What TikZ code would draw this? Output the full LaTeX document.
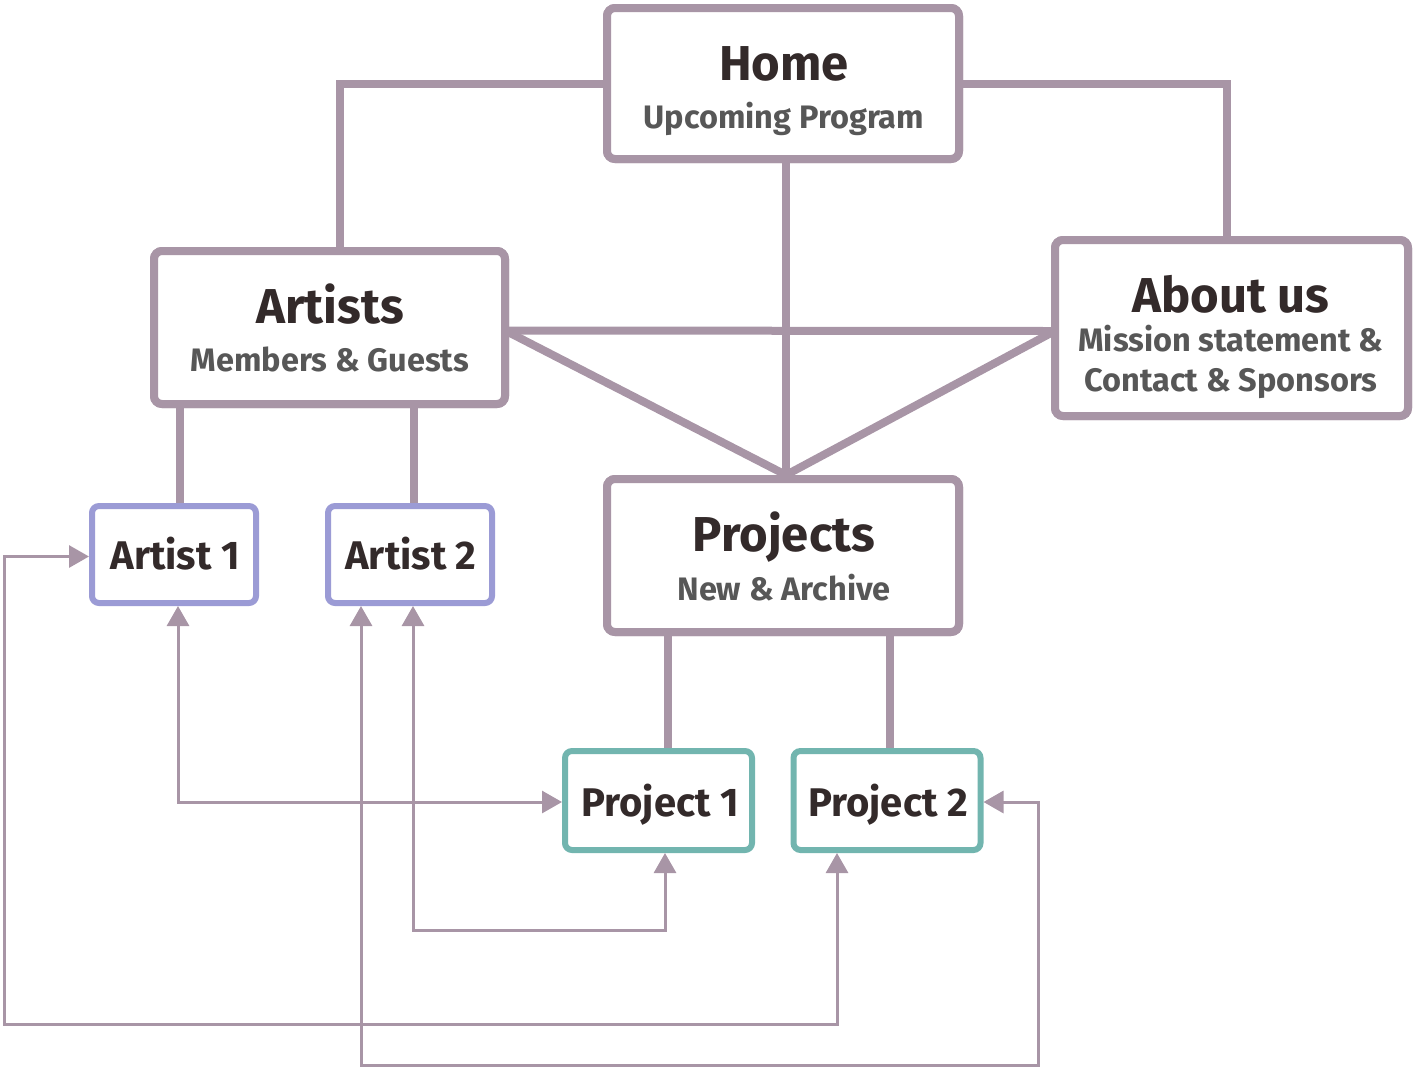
\documentclass[tikz,border=0pt]{standalone}
\usepackage{fontspec}
\setmainfont{Fira Sans}
\usetikzlibrary{arrows.meta}
\definecolor{linec}{HTML}{A895A6}
\definecolor{artc}{HTML}{9B9BD5}
\definecolor{projc}{HTML}{72B5AF}
\definecolor{titlec}{HTML}{332A2A}
\definecolor{subc}{HTML}{575757}
\begin{document}
\begin{tikzpicture}[x=1pt,y=-1pt,
  bigbox/.style={draw=linec,line width=8pt,rounded corners=8pt,fill=white,inner sep=0pt},
  artbox/.style={draw=artc,line width=6pt,rounded corners=7pt,fill=white,inner sep=0pt,minimum width=164pt,minimum height=97pt},
  projbox/.style={draw=projc,line width=6pt,rounded corners=7pt,fill=white,inner sep=0pt,minimum width=187pt,minimum height=99pt},
  ttl/.style={anchor=base,text=titlec,font=\fontsize{49}{52}\selectfont\bfseries,inner sep=0pt},
  sub/.style={anchor=base,text=subc,font=\fontsize{32.5}{36}\selectfont\bfseries,inner sep=0pt},
  small/.style={anchor=base,text=titlec,font=\fontsize{40}{44}\selectfont\bfseries,inner sep=0pt},
  thickline/.style={draw=linec,line width=8pt},
  link/.style={draw=linec,line width=3pt,{Triangle[length=20pt,width=22pt]}-{Triangle[length=20pt,width=22pt]}}
]
\useasboundingbox (0,0) rectangle (1414,1069);
% boxes
\node[bigbox,minimum width=352pt,minimum height=151pt] (home) at (783,83.5) {};
\node[bigbox,minimum width=351pt,minimum height=153pt] (artists) at (329.5,327.5) {};
\node[bigbox,minimum width=353pt,minimum height=176pt] (about) at (1231.5,328) {};
\node[bigbox,minimum width=352pt,minimum height=153pt] (projects) at (783,555.5) {};
\node[artbox] (artist1) at (174,554.5) {};
\node[artbox] (artist2) at (410,554.5) {};
\node[projbox] (project1) at (658.5,800.5) {};
\node[projbox] (project2) at (887,800.5) {};
% thick connectors
\draw[thickline] (home.west) -| ([xshift=10.5pt]artists.north);
\draw[thickline] (home.east) -| ([xshift=-5pt]about.north);
\draw[thickline] ([xshift=3pt]home.south) -- ([xshift=3pt]projects.north);
\draw[thickline] ([yshift=-3pt]artists.east) -- ([yshift=-3pt]about.west);
\draw[thickline] ([yshift=-5pt]artists.east) -- ([xshift=3pt]projects.north);
\draw[thickline] ([yshift=-5pt]about.west) -- ([xshift=3pt]projects.north);
\draw[thickline] ([xshift=6pt]artists.south -| artist1.north) -- ([xshift=6pt]artist1.north);
\draw[thickline] ([xshift=4pt]artists.south -| artist2.north) -- ([xshift=4pt]artist2.north);
\draw[thickline] (projects.south -| project1.north) ++(9.5,0) -- ([xshift=9.5pt]project1.north);
\draw[thickline] (projects.south -| project2.north) ++(3,0) -- ([xshift=3pt]project2.north);
% redraw box frames on top of the line ends
\node[bigbox,minimum width=352pt,minimum height=151pt] (homeF) at (home) {};
\node[bigbox,minimum width=351pt,minimum height=153pt] (artistsF) at (artists) {};
\node[bigbox,minimum width=353pt,minimum height=176pt] (aboutF) at (about) {};
\node[bigbox,minimum width=352pt,minimum height=153pt] (projectsF) at (projects) {};
% thin links
\coordinate (c1) at (4,1024);
\coordinate (c2) at (1038,1065);
\draw[link] ([xshift=4pt]artist1.south) |- ([yshift=-1.5pt]project1.west);
\draw[link] ([xshift=3pt]artist2.south) -- ++(0,324) -| ([xshift=6.5pt]project1.south);
\draw[link] ([yshift=-2pt]artist1.west) -| (c1) -| ([xshift=-50pt]project2.south);
\draw[link] ([xshift=-49pt]artist2.south) |- (c2) |- ([yshift=-1.5pt]project2.east);
% texts
\node[ttl] (t1) at (784,80) {Home};
\node[sub] (s1) at (784,128) {Upcoming Program};
\node[ttl] (t2) at (330,323) {Artists};
\node[sub] (s2) at (330,371) {Members \& Guests};
\node[ttl] (t3) at (1231,312) {About us};
\node[sub] (s3) at (1231,351) {Mission statement \&};
\node[sub] (s3b) at (1231,391) {Contact \& Sponsors};
\node[ttl] (t4) at (784,551) {Projects};
\node[sub] (s4) at (784,600) {New \& Archive};
\node[small] (t5) at (175,569) {Artist 1};
\node[small] (t6) at (411,569) {Artist 2};
\node[small] (t7) at (660,816) {Project 1};
\node[small] (t8) at (888,816) {Project 2};
\end{tikzpicture}
\end{document}
